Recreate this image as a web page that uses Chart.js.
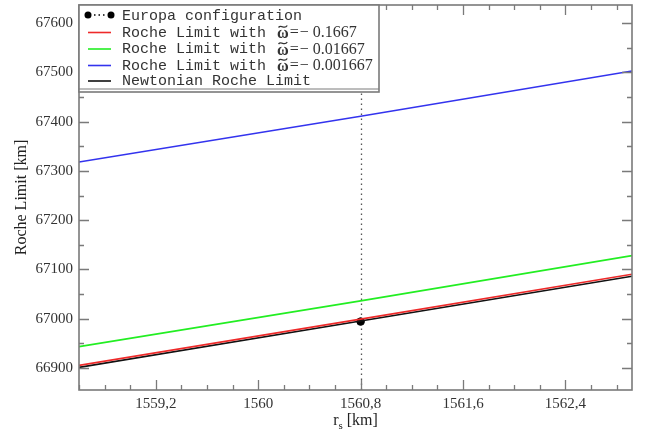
<!DOCTYPE html>
<html><head><meta charset="utf-8">
<script src="https://cdn.jsdelivr.net/npm/chart.js@4/dist/chart.umd.min.js"></script>
<style>html,body{margin:0;padding:0;background:#fff}</style>
</head><body>
<canvas id="c" width="652" height="435"></canvas>
<script>
// ---- data ----
const rs = [1558.6, 1560.8, 1562.92];            // r_s [km]
const rocheW1 = [66905, 66999, 67090];            // omega = -0.1667 (red)
const rocheW2 = [66943, 67036, 67128];            // omega = -0.01667 (green)
const rocheW3 = [67318, 67411, 67503];            // omega = -0.001667 (blue)
const rocheNewton = [66901, 66995, 67086];        // Newtonian (black)
const europaR = [1560.8];
const europaLimit = [66994];
const xTicks = [1559.2, 1560, 1560.8, 1561.6, 1562.4];
const yTicks = [66900, 67000, 67100, 67200, 67300, 67400, 67500, 67600];
const xRange = [1558.6, 1562.92];
const yRange = [66855, 67637];
const omegaLabels = ['0.1667', '0.01667', '0.001667'];
const legendLabels = ['Europa configuration', 'Roche Limit with ', 'Roche Limit with ', 'Roche Limit with ', 'Newtonian Roche Limit'];

const SERIF = '"Liberation Serif", "Times New Roman", serif';
const MONO = '"Liberation Mono", "Courier New", monospace';
const FRAME = '#7a7a7a';

function pts(ys){ return rs.map((x,i)=>({x:x, y:ys[i]})); }
function lineDs(label, ys, color){
  return {label, data: pts(ys), showLine:true, borderColor:color, backgroundColor:color,
          borderWidth:1.6, pointRadius:0, tension:0};
}

const frameTicks = {
  id:'frameTicks',
  beforeDatasetsDraw(chart){
    const {ctx, chartArea:a, scales:{x,y}} = chart;
    ctx.save();
    ctx.strokeStyle = '#555'; ctx.lineWidth = 1.3; ctx.setLineDash([1.5,3.5]);
    const px = Math.round(x.getPixelForValue(europaR[0]))+0.5;
    ctx.beginPath(); ctx.moveTo(px, a.bottom); ctx.lineTo(px, a.top); ctx.stroke();
    ctx.restore();
  },
  afterDatasetsDraw(chart){
    const {ctx, chartArea:a, scales:{x,y}} = chart;
    ctx.save();
    ctx.strokeStyle = FRAME; ctx.lineWidth = 1.3;
    const xs = xTicks[1]-xTicks[0], xm = xs/4;
    const x0 = xTicks[0] - Math.floor((xTicks[0]-xRange[0])/xm)*xm;
    for (let v = x0; v <= xRange[1]+1e-9; v += xm){
      const major = xTicks.some(t=>Math.abs(t-v)<1e-6);
      const L = major ? 10 : 5;
      const p = Math.round(x.getPixelForValue(v))+0.5;
      ctx.beginPath(); ctx.moveTo(p, a.bottom); ctx.lineTo(p, a.bottom-L);
      ctx.moveTo(p, a.top); ctx.lineTo(p, a.top+L); ctx.stroke();
    }
    const ys = yTicks[1]-yTicks[0], ym = ys/2;
    const y0 = yTicks[0] - Math.floor((yTicks[0]-yRange[0])/ym)*ym;
    for (let v = y0; v <= yRange[1]+1e-9; v += ym){
      const major = yTicks.some(t=>Math.abs(t-v)<1e-6);
      const L = major ? 10 : 5;
      const p = Math.round(y.getPixelForValue(v))+0.5;
      ctx.beginPath(); ctx.moveTo(a.left, p); ctx.lineTo(a.left+L, p);
      ctx.moveTo(a.right, p); ctx.lineTo(a.right-L, p); ctx.stroke();
    }
    ctx.lineWidth = 1.6;
    ctx.strokeRect(a.left, a.top, a.right-a.left, a.bottom-a.top);
    ctx.restore();
  },
  afterDraw(chart){
    const {ctx, chartArea:a} = chart;
    ctx.save();
    ctx.fillStyle = '#222';
    ctx.textBaseline = 'alphabetic';
    const t1 = 'r', t2 = 's', t3 = ' [km]';
    ctx.font = '16px ' + SERIF; const w1 = ctx.measureText(t1).width, w3 = ctx.measureText(t3).width;
    ctx.font = '11px ' + SERIF; const w2 = ctx.measureText(t2).width;
    const cx = (a.left + a.right)/2, tot = w1+w2+w3;
    let tx = cx - tot/2;
    ctx.font = '16px ' + SERIF; ctx.textAlign='left'; ctx.fillText(t1, tx, 425); tx += w1;
    ctx.font = '11px ' + SERIF; ctx.fillText(t2, tx, 429); tx += w2;
    ctx.font = '16px ' + SERIF; ctx.fillText(t3, tx, 425);
    ctx.save();
    ctx.translate(22, (a.top+a.bottom)/2); ctx.rotate(-Math.PI/2);
    ctx.textAlign='center'; ctx.textBaseline='middle';
    ctx.font = '16px ' + SERIF; ctx.fillText('Roche Limit [km]', 0, 0);
    ctx.restore();

    // legend box
    const bx = a.left, by = a.top, bw = 300, bh = 87;
    ctx.fillStyle = '#fff'; ctx.fillRect(bx, by, bw, bh);
    ctx.strokeStyle = FRAME; ctx.lineWidth = 1.6; ctx.strokeRect(bx, by, bw, bh);
    ctx.beginPath(); ctx.moveTo(bx, by+bh-3); ctx.lineTo(bx+bw, by+bh-3); ctx.lineWidth=1; ctx.stroke();
    const rowY = [15, 32, 48.5, 65, 80.5];
    const ds = chart.data.datasets;
    const order = [4, 0, 1, 2, 3];
    const sx0 = 88, sx1 = 111, textX = 122;
    for (let r=0; r<5; r++){
      const yy = rowY[r];
      const d = ds[order[r]];
      if (r === 0){
        ctx.fillStyle = '#000';
        ctx.beginPath(); ctx.arc(sx0, yy, 3.5, 0, 2*Math.PI); ctx.fill();
        ctx.beginPath(); ctx.arc(sx1, yy, 3.5, 0, 2*Math.PI); ctx.fill();
        for (let k=0;k<3;k++){ ctx.fillRect(sx0+6+k*4.5, yy-0.75, 1.5, 1.5); }
      } else {
        ctx.strokeStyle = d.borderColor; ctx.lineWidth = 1.6;
        ctx.beginPath(); ctx.moveTo(sx0, yy+0.5); ctx.lineTo(sx1, yy+0.5); ctx.stroke();
      }
      ctx.fillStyle = '#333'; ctx.textAlign='left'; ctx.textBaseline='middle';
      ctx.font = '15px ' + MONO;
      ctx.fillText(legendLabels[r], textX, yy+1);
      if (r>=1 && r<=3){
        let ox = textX + ctx.measureText(legendLabels[r]).width + 2;
        ctx.font = 'bold 16px ' + SERIF; ctx.fillStyle='#333';
        const wo = ctx.measureText('ω').width;
        ctx.fillText('ω', ox, yy+2);
        ctx.strokeStyle = '#333'; ctx.lineWidth = 1.3;
        ctx.beginPath();
        const tx0 = ox+1.5, tx1 = ox+wo-1.5, ty = yy-5.5;
        ctx.moveTo(tx0, ty+1);
        ctx.bezierCurveTo(tx0+(tx1-tx0)*0.3, ty-2.5, tx0+(tx1-tx0)*0.7, ty+3.5, tx1, ty-1);
        ctx.stroke();
        ctx.font = '16px ' + SERIF;
        ox += wo + 1;
        ctx.fillText('=', ox, yy+1); ox += ctx.measureText('=').width + 1;
        ctx.fillText('−', ox, yy+1); ox += ctx.measureText('−').width + 4;
        ctx.fillText(omegaLabels[r-1], ox, yy+1);
      }
    }
    ctx.restore();
  }
};

new Chart(document.getElementById('c'), {
  type:'scatter',
  data:{ datasets:[
    lineDs('Roche Limit with ω=−0.1667', rocheW1, '#ee2a2a'),
    lineDs('Roche Limit with ω=−0.01667', rocheW2, '#22ee22'),
    lineDs('Roche Limit with ω=−0.001667', rocheW3, '#3333ee'),
    lineDs('Newtonian Roche Limit', rocheNewton, '#111111'),
    {label:'Europa configuration', data: europaR.map((x,i)=>({x, y:europaLimit[i]})),
     showLine:false, pointRadius:3.8, pointBackgroundColor:'#000', pointBorderColor:'#000', borderColor:'#000', backgroundColor:'#000'}
  ]},
  options:{
    responsive:false, animation:false, devicePixelRatio:1,
    layout:{padding:{left:0, right:20, top:4, bottom:0}},
    plugins:{legend:{display:false}, tooltip:{enabled:false}},
    scales:{
      x:{type:'linear', min:xRange[0], max:xRange[1],
         afterBuildTicks(s){ s.ticks = xTicks.map(v=>({value:v})); },
         afterFit(s){ s.height = 45; s.paddingLeft = 0; s.paddingRight = 0; },
         grid:{display:false, drawTicks:false}, border:{display:false},
         ticks:{padding:5, color:'#333', font:{family:SERIF, size:15}, maxRotation:0, autoSkip:false,
                callback:(v)=>String(Math.round(v*10)/10).replace('.', ',')}},
      y:{type:'linear', min:yRange[0], max:yRange[1],
         afterBuildTicks(s){ s.ticks = yTicks.map(v=>({value:v})); },
         afterFit(s){ s.width = 79; s.paddingTop = 0; s.paddingBottom = 0; },
         grid:{display:false, drawTicks:false}, border:{display:false},
         ticks:{padding:6, color:'#333', font:{family:SERIF, size:15}, autoSkip:false,
                callback:(v)=>String(v)}}
    }
  },
  plugins:[frameTicks]
});
</script>
</body></html>
